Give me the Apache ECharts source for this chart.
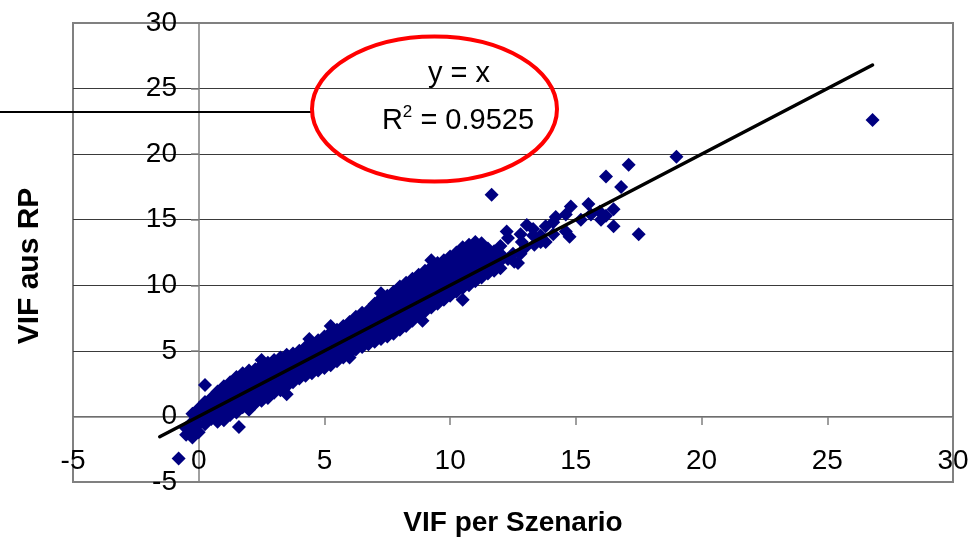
<!DOCTYPE html>
<html><head><meta charset="utf-8">
<script src="https://cdn.jsdelivr.net/npm/echarts@6/dist/echarts.min.js"></script>
<style>html,body{margin:0;padding:0;background:#fff}#c{width:972px;height:540px}</style>
</head><body><div id="c"></div>
<script>
// Axis settings (tick values)
const xMin = -5, xMax = 30, yMin = -5, yMax = 30, tickStep = 5;

// Dense cloud: each entry is [VIF per Szenario, list of VIF aus RP values read at that x]
const cloudColumns = [
  [-0.5, [-1.4, -0.9]],
  [-0.25, [-1.6, -1.0, -0.4, 0.2]],
  [0.0, [-1.2, -0.6, 0.0, 0.6]],
  [0.25, [-0.6, -0.05, 0.5, 1.1, 2.4]],
  [0.5, [-0.2, 0.35, 0.9, 1.4]],
  [0.75, [-0.4, 0.15, 0.7, 1.3, 1.9]],
  [1.0, [-0.3, 0.25, 0.8, 1.3, 1.8, 2.3]],
  [1.25, [0.1, 0.6, 1.15, 1.7, 2.2, 2.6]],
  [1.5, [0.3, 0.85, 1.4, 1.95, 2.5, 3.0]],
  [1.6, [-0.8]],
  [1.75, [0.7, 1.25, 1.8, 2.3, 2.8, 3.3]],
  [2.0, [0.5, 1.05, 1.6, 2.15, 2.7, 3.2, 3.5]],
  [2.25, [1.0, 1.55, 2.1, 2.6, 3.1, 3.6]],
  [2.5, [1.2, 1.75, 2.3, 2.85, 3.4, 3.9, 4.3]],
  [2.75, [1.4, 1.95, 2.5, 3.05, 3.6, 4.1]],
  [3.0, [1.8, 2.35, 2.9, 3.4, 3.9, 4.3]],
  [3.25, [2.0, 2.55, 3.1, 3.6, 4.1, 4.5]],
  [3.5, [1.7, 2.3, 2.85, 3.4, 3.95, 4.4, 4.7]],
  [3.75, [2.6, 3.1, 3.6, 4.1, 4.5, 4.8]],
  [4.0, [2.9, 3.45, 4.0, 4.5, 5.0]],
  [4.25, [3.1, 3.65, 4.2, 4.75, 5.3]],
  [4.4, [5.9]],
  [4.5, [3.3, 3.85, 4.4, 4.95, 5.5]],
  [4.75, [3.5, 4.05, 4.6, 5.1, 5.5, 5.8]],
  [5.0, [3.7, 4.25, 4.8, 5.35, 5.8, 6.1]],
  [5.25, [3.9, 4.45, 5.0, 5.55, 6.0, 6.4, 6.9]],
  [5.5, [4.2, 4.75, 5.3, 5.8, 6.25, 6.6]],
  [5.75, [4.5, 5.05, 5.6, 6.1, 6.55, 6.9]],
  [6.0, [4.5, 4.8, 5.35, 5.9, 6.4, 6.85, 7.2]],
  [6.25, [5.1, 5.65, 6.2, 6.7, 7.2, 7.6]],
  [6.5, [5.3, 5.85, 6.4, 6.9, 7.4, 7.9]],
  [6.75, [5.5, 6.05, 6.6, 7.1, 7.6, 8.1]],
  [7.0, [5.7, 6.25, 6.8, 7.3, 7.8, 8.2, 8.6]],
  [7.25, [5.9, 6.45, 7.0, 7.5, 8.0, 8.5, 9.0, 9.4]],
  [7.5, [6.1, 6.65, 7.2, 7.7, 8.2, 8.7, 9.2]],
  [7.75, [6.3, 6.85, 7.4, 7.9, 8.4, 8.95, 9.5]],
  [8.0, [6.6, 7.15, 7.7, 8.2, 8.75, 9.3, 9.9]],
  [8.25, [6.9, 7.45, 8.0, 8.5, 9.05, 9.6, 10.2]],
  [8.5, [7.3, 7.85, 8.4, 8.9, 9.45, 10.0, 10.5]],
  [8.75, [7.7, 8.25, 8.8, 9.3, 9.8, 10.3, 10.8]],
  [8.9, [7.3]],
  [9.0, [8.0, 8.55, 9.1, 9.6, 10.1, 10.6, 11.1]],
  [9.25, [8.3, 8.85, 9.4, 9.9, 10.4, 10.9, 11.4, 11.9]],
  [9.5, [8.6, 9.15, 9.7, 10.2, 10.7, 11.2, 11.7]],
  [9.75, [8.9, 9.45, 10.0, 10.5, 11.0, 11.5, 11.9]],
  [10.0, [9.2, 9.75, 10.3, 10.8, 11.3, 11.8, 12.2]],
  [10.25, [9.5, 10.05, 10.6, 11.1, 11.6, 12.1, 12.5]],
  [10.5, [8.9, 9.8, 10.35, 10.9, 11.4, 11.9, 12.4, 12.9]],
  [10.75, [10.0, 10.55, 11.1, 11.6, 12.1, 12.6, 13.1]],
  [11.0, [10.3, 10.85, 11.4, 11.9, 12.4, 12.9, 13.3]],
  [11.25, [10.6, 11.15, 11.7, 12.2, 12.7, 13.2]],
  [11.5, [10.9, 11.45, 12.0, 12.5, 12.8]],
  [11.75, [11.1, 11.65, 12.2, 12.6]],
  [12.0, [11.3, 11.85, 12.4, 13.0]]
];

// Sparse upper part of the cloud [VIF per Szenario, VIF aus RP]
const sparsePoints = [
  [12.25, 14.1], [12.3, 13.6], [12.3, 12.0], [12.5, 12.4], [12.55, 11.8], [12.7, 11.7],
  [12.8, 12.4], [12.85, 13.3], [12.8, 13.9], [13.05, 14.6], [13.0, 12.9], [13.3, 14.3],
  [13.3, 13.8], [13.35, 13.1], [13.6, 13.3], [13.6, 13.8], [13.8, 14.5], [13.8, 13.3],
  [14.1, 13.9], [14.1, 14.8], [14.2, 15.2], [14.6, 14.1], [14.6, 15.4], [14.75, 13.7],
  [14.8, 16.0], [15.2, 15.0], [15.5, 16.2], [15.6, 15.4], [15.95, 15.6], [16.0, 15.0],
  [16.2, 15.3], [16.5, 15.8], [16.5, 14.5]
];

// Isolated points
const outlierPoints = [
  [-0.8, -3.2], [11.65, 16.9], [16.2, 18.3], [16.8, 17.5], [17.1, 19.2],
  [17.5, 13.9], [19.0, 19.8], [26.8, 22.6]
];

// Trend line y = x, drawn between these x values
const trendX = [-1.55, 26.8];
const trendLabel = 'y = x';
const r2Value = '0.9525';

const scatterData = [];
cloudColumns.forEach(c => c[1].forEach(y => scatterData.push([c[0], y])));
sparsePoints.forEach(p => scatterData.push(p));
outlierPoints.forEach(p => scatterData.push(p));
const trendData = trendX.map(x => [x, x]);

const FONT = "'Liberation Sans', Arial, sans-serif";
const chart = echarts.init(document.getElementById('c'));
chart.setOption({
  animation: false,
  backgroundColor: '#ffffff',
  grid: { left: 73, top: 23, width: 880, height: 459, show: false, outerBoundsMode: 'none' },
  xAxis: {
    type: 'value', min: xMin, max: xMax, interval: tickStep, position: 'bottom', offset: -65,
    axisLine: { onZero: false, lineStyle: { color: '#808080', width: 1.5 } },
    axisTick: { show: true, length: 8, lineStyle: { color: '#808080', width: 1.5 } },
    axisLabel: { margin: 30, color: '#000', fontFamily: FONT, fontSize: 28, showMinLabel: true, showMaxLabel: true, hideOverlap: false },
    splitLine: { show: false }
  },
  yAxis: {
    type: 'value', min: yMin, max: yMax, interval: tickStep, position: 'left', offset: -126,
    axisLine: { onZero: false, lineStyle: { color: '#808080', width: 1.5 } },
    axisTick: { show: true, length: 8, lineStyle: { color: '#808080', width: 1.5 } },
    axisLabel: { margin: 22, color: '#000', fontFamily: FONT, fontSize: 28, showMinLabel: true, showMaxLabel: true, hideOverlap: false },
    splitLine: { show: true, showMinLine: false, showMaxLine: false, lineStyle: { color: '#3a3a3a', width: 1 } }
  },
  series: [
    {
      type: 'scatter', data: scatterData, symbol: 'diamond', symbolSize: 14,
      itemStyle: { color: '#000080', opacity: 1 }, z: 3
    },
    {
      type: 'line', data: trendData, showSymbol: false, symbol: 'none',
      lineStyle: { color: '#000', width: 3.5, cap: 'round' }, z: 4
    }
  ],
  graphic: [
    { type: 'rect', z: -1, silent: true, shape: { x: 73, y: 23, width: 880, height: 459 },
      style: { fill: 'none', stroke: '#808080', lineWidth: 2 } },
    { type: 'line', z: 50, shape: { x1: 0, y1: 112, x2: 312, y2: 112 },
      style: { stroke: '#000', lineWidth: 2 } },
    { type: 'ellipse', z: 51, shape: { cx: 434.5, cy: 109, rx: 122.5, ry: 72.5 },
      style: { fill: 'none', stroke: '#ff0000', lineWidth: 4 } },
    { type: 'text', z: 52, x: 459, y: 74,
      style: { text: trendLabel, font: '29px ' + FONT, fill: '#000', align: 'center', verticalAlign: 'middle' } },
    { type: 'text', z: 52, x: 458, y: 121,
      style: { text: '{a|R}{b|2}{a| = ' + r2Value + '}', fill: '#000', align: 'center', verticalAlign: 'middle',
        rich: { a: { fontFamily: FONT, fontSize: 29, lineHeight: 34 }, b: { fontFamily: FONT, fontSize: 17, verticalAlign: 'top', lineHeight: 34 } } } },
    { type: 'text', z: 52, x: 30, y: 266, rotation: Math.PI / 2,
      style: { text: 'VIF aus RP', font: 'bold 30px ' + FONT, fill: '#000', align: 'center', verticalAlign: 'middle' } },
    { type: 'text', z: 52, x: 513, y: 523,
      style: { text: 'VIF per Szenario', font: 'bold 28px ' + FONT, fill: '#000', align: 'center', verticalAlign: 'middle' } }
  ]
});
</script>
</body></html>
